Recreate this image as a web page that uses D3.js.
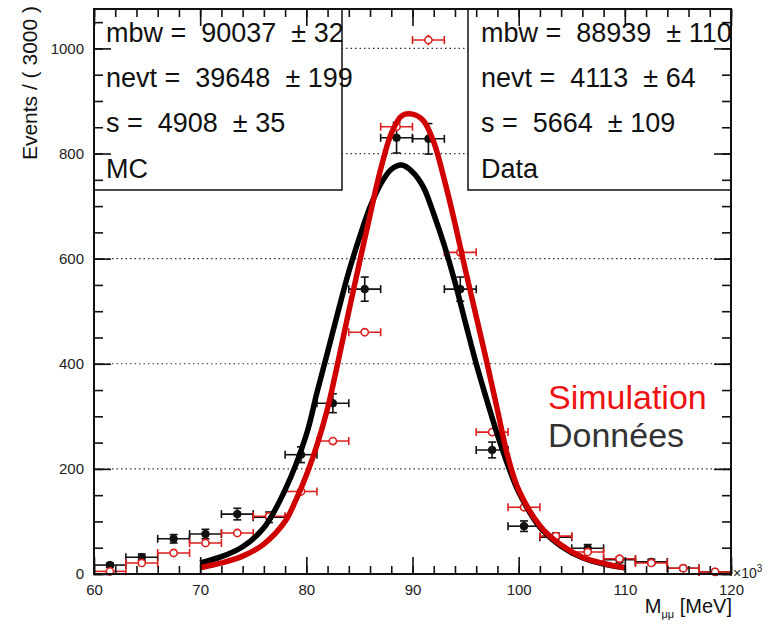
<!DOCTYPE html>
<html>
<head>
<meta charset="utf-8">
<script src="https://cdn.jsdelivr.net/npm/d3@7"></script>
<style>
  body { margin: 0; background: #fff; }
  svg { display: block; font-family: "Liberation Sans", Arial, Helvetica, sans-serif; }
  .txt { white-space: pre; }
</style>
</head>
<body>
<div id="chart"></div>
<script>
// Bin centres (3 GeV bins, shown in MeV / 1000)
const binCenters = [61.5, 64.5, 67.5, 70.5, 73.5, 76.5, 79.5, 82.5, 85.5, 88.5,
                    91.5, 94.5, 97.5, 100.5, 103.5, 106.5, 109.5, 112.5, 115.5, 118.5];
const binHalfWidth = 1.5;

// Data (black filled points)
const dataValues = [17, 32, 67, 76, 114, 108, 227, 325, 542, 830,
                    828, 542, 236, 91, 70, 49, 27, 23, 11, 4];
const dataErrors = [4, 6, 8, 9, 11, 10, 15, 18, 23, 29,
                    29, 23, 15, 10, 8, 7, 5, 5, 3, 2];

// MC (red open points, scaled)
const mcValues = [5, 21, 40, 59, 78, 110, 157, 253, 460, 851,
                  1016, 612, 270, 127, 72, 42, 29, 21, 11, 4];
const mcErrors = [1, 1.5, 2, 2.5, 3, 3.4, 4, 5, 7, 9.4,
                  10, 8, 5.3, 3.6, 2.7, 2, 1.7, 1.5, 1, 0.7];

// Fitted curves
const dataFitX = [70, 72, 74, 76, 78, 80, 81, 82, 83, 84, 85, 86, 87, 88, 89, 90,
                  91, 92, 93, 94, 95, 96, 97, 98, 99, 100, 102, 104, 106, 108, 110];
const dataFitY = [21, 33, 52, 88, 160, 265, 345, 422, 500, 575, 640, 698, 742, 770, 778, 765,
                  737, 685, 625, 555, 477, 400, 331, 265, 206, 156, 89, 53, 31, 19, 12];
const mcFitX = [70, 72, 74, 76, 78, 79, 80, 81, 82, 83, 84, 85, 86, 87, 88, 89, 90,
                91, 92, 93, 94, 95, 96, 97, 98, 99, 100, 102, 104, 106, 108, 110];
const mcFitY = [12, 21, 34, 57, 100, 140, 188, 245, 315, 405, 500, 592, 683, 770, 838, 872, 875,
                863, 822, 750, 667, 577, 490, 403, 312, 222, 160, 92, 55, 32, 20, 12];

// Axes
const xMajorTicks = [60, 70, 80, 90, 100, 110, 120];
const yMajorTicks = [0, 200, 400, 600, 800, 1000];
const gridValues = [200, 400, 600, 800, 1000];

// Fit result boxes
const mcStats = ["mbw =  90037  \u00b1 32", "nevt =  39648  \u00b1 199", "s =  4908  \u00b1 35", "MC"];
const dataStats = ["mbw =  88939  \u00b1 110", "nevt =  4113  \u00b1 64", "s =  5664  \u00b1 109", "Data"];

const W = 771, H = 624;
const plot = { left: 94, right: 731, top: 9, bottom: 574 };

const svg = d3.select("#chart").append("svg")
    .attr("width", W)
    .attr("height", H);

const x = d3.scaleLinear().domain([60, 120]).range([plot.left, plot.right]);
const y = d3.scaleLinear().domain([0, 1075]).range([plot.bottom, plot.top]);

// Dotted horizontal grid
svg.append("g")
    .selectAll("line")
    .data(gridValues)
    .join("line")
    .attr("x1", plot.left)
    .attr("x2", plot.right)
    .attr("y1", d => y(d))
    .attr("y2", d => y(d))
    .attr("stroke", "#333")
    .attr("stroke-width", 1.2)
    .attr("stroke-dasharray", "1.5,3");

// Error bar points
function drawPoints(values, errors, color, filled) {
    const g = svg.append("g");
    const pts = binCenters.map((c, i) => ({ c: c, v: values[i], e: errors[i] }));
    const capH = 4;

    // horizontal bars
    g.selectAll("line.h")
        .data(pts)
        .join("line")
        .attr("class", "h")
        .attr("x1", d => x(d.c - binHalfWidth))
        .attr("x2", d => x(d.c + binHalfWidth))
        .attr("y1", d => y(d.v))
        .attr("y2", d => y(d.v))
        .attr("stroke", color)
        .attr("stroke-width", 1.6);

    // end caps of horizontal bars
    g.selectAll("line.capl")
        .data(pts)
        .join("line")
        .attr("class", "capl")
        .attr("x1", d => x(d.c - binHalfWidth))
        .attr("x2", d => x(d.c - binHalfWidth))
        .attr("y1", d => y(d.v) - capH)
        .attr("y2", d => y(d.v) + capH)
        .attr("stroke", color)
        .attr("stroke-width", 1.6);
    g.selectAll("line.capr")
        .data(pts)
        .join("line")
        .attr("class", "capr")
        .attr("x1", d => x(d.c + binHalfWidth))
        .attr("x2", d => x(d.c + binHalfWidth))
        .attr("y1", d => y(d.v) - capH)
        .attr("y2", d => y(d.v) + capH)
        .attr("stroke", color)
        .attr("stroke-width", 1.6);

    // vertical bars
    g.selectAll("line.v")
        .data(pts)
        .join("line")
        .attr("class", "v")
        .attr("x1", d => x(d.c))
        .attr("x2", d => x(d.c))
        .attr("y1", d => y(d.v - d.e))
        .attr("y2", d => y(d.v + d.e))
        .attr("stroke", color)
        .attr("stroke-width", 1.6);

    if (filled) {
        g.selectAll("line.capt")
            .data(pts)
            .join("line")
            .attr("class", "capt")
            .attr("x1", d => x(d.c) - capH)
            .attr("x2", d => x(d.c) + capH)
            .attr("y1", d => y(d.v + d.e))
            .attr("y2", d => y(d.v + d.e))
            .attr("stroke", color)
            .attr("stroke-width", 1.6);
        g.selectAll("line.capb")
            .data(pts)
            .join("line")
            .attr("class", "capb")
            .attr("x1", d => x(d.c) - capH)
            .attr("x2", d => x(d.c) + capH)
            .attr("y1", d => y(d.v - d.e))
            .attr("y2", d => y(d.v - d.e))
            .attr("stroke", color)
            .attr("stroke-width", 1.6);
    }

    g.selectAll("circle")
        .data(pts)
        .join("circle")
        .attr("cx", d => x(d.c))
        .attr("cy", d => y(d.v))
        .attr("r", filled ? 3.8 : 3.6)
        .attr("fill", filled ? color : "#fff")
        .attr("stroke", color)
        .attr("stroke-width", filled ? 1 : 1.6);
}

drawPoints(dataValues, dataErrors, "#111", true);
drawPoints(mcValues, mcErrors, "#dd1f1f", false);

// Fit curves
const line = d3.line()
    .x(d => x(d[0]))
    .y(d => y(d[1]))
    .curve(d3.curveCatmullRom.alpha(0.5));

svg.append("path")
    .datum(d3.zip(dataFitX, dataFitY))
    .attr("d", line)
    .attr("fill", "none")
    .attr("stroke", "#000")
    .attr("stroke-width", 5.5);

svg.append("path")
    .datum(d3.zip(mcFitX, mcFitY))
    .attr("d", line)
    .attr("fill", "none")
    .attr("stroke", "#d00000")
    .attr("stroke-width", 5.5);

// Stat boxes
function statBox(x0, x1) {
    svg.append("rect")
        .attr("x", x0)
        .attr("y", plot.top)
        .attr("width", x1 - x0)
        .attr("height", 190 - plot.top)
        .attr("fill", "#fff")
        .attr("stroke", "#111")
        .attr("stroke-width", 1.5);
}
statBox(plot.left, 342);
statBox(468, plot.right);

// Axes: ticks on all four sides, pointing inwards
function styleAxis(g) {
    g.select(".domain").remove();
    g.selectAll(".tick line").attr("stroke", "#111").attr("stroke-width", 1.6);
    g.selectAll(".tick text")
        .attr("fill", "#222")
        .style("font-size", "15px")
        .style("font-family", "\"Liberation Sans\", Arial, sans-serif");
}

svg.append("g")
    .attr("transform", `translate(0,${plot.bottom})`)
    .call(d3.axisBottom(x).tickValues(xMajorTicks).tickSize(-17).tickPadding(10).tickFormat(d3.format("d")))
    .call(styleAxis);
svg.append("g")
    .attr("transform", `translate(0,${plot.bottom})`)
    .call(d3.axisBottom(x).ticks(30).tickSize(-8).tickFormat(""))
    .call(styleAxis);
svg.append("g")
    .attr("transform", `translate(0,${plot.top})`)
    .call(d3.axisTop(x).tickValues(xMajorTicks).tickSize(-17).tickFormat(""))
    .call(styleAxis);
svg.append("g")
    .attr("transform", `translate(0,${plot.top})`)
    .call(d3.axisTop(x).ticks(30).tickSize(-8).tickFormat(""))
    .call(styleAxis);

svg.append("g")
    .attr("transform", `translate(${plot.left},0)`)
    .call(d3.axisLeft(y).tickValues(yMajorTicks).tickSize(-17).tickPadding(10).tickFormat(d3.format("d")))
    .call(styleAxis);
svg.append("g")
    .attr("transform", `translate(${plot.left},0)`)
    .call(d3.axisLeft(y).ticks(20).tickSize(-9).tickFormat(""))
    .call(styleAxis);
svg.append("g")
    .attr("transform", `translate(${plot.right},0)`)
    .call(d3.axisRight(y).tickValues(yMajorTicks).tickSize(-17).tickFormat(""))
    .call(styleAxis);
svg.append("g")
    .attr("transform", `translate(${plot.right},0)`)
    .call(d3.axisRight(y).ticks(20).tickSize(-9).tickFormat(""))
    .call(styleAxis);

// Frame
svg.append("rect")
    .attr("x", plot.left)
    .attr("y", plot.top)
    .attr("width", plot.right - plot.left)
    .attr("height", plot.bottom - plot.top)
    .attr("fill", "none")
    .attr("stroke", "#111")
    .attr("stroke-width", 2);

// Stat box text
const rowBaselines = [42, 87, 132, 178];
function statText(x0, lines) {
    svg.append("g")
        .selectAll("text")
        .data(lines)
        .join("text")
        .attr("class", "txt")
        .attr("x", x0)
        .attr("y", (d, i) => rowBaselines[i])
        .attr("fill", "#111")
        .style("font-size", "27px")
        .text(d => d);
}
statText(106, mcStats);
statText(481, dataStats);

// Legend
svg.append("text")
    .attr("x", 548)
    .attr("y", 409)
    .attr("fill", "#ee1111")
    .style("font-size", "34px")
    .text("Simulation");
svg.append("text")
    .attr("x", 548)
    .attr("y", 447)
    .attr("fill", "#333")
    .style("font-size", "34px")
    .text("Données");

// Axis titles
svg.append("text")
    .attr("transform", "translate(37,6) rotate(-90)")
    .attr("text-anchor", "end")
    .attr("fill", "#111")
    .attr("class", "txt")
    .style("font-size", "21px")
    .text("Events / ( 3000 )");

const xt = svg.append("text")
    .attr("x", 732)
    .attr("y", 613)
    .attr("text-anchor", "end")
    .attr("fill", "#111")
    .attr("class", "txt")
    .style("font-size", "20px");
xt.append("tspan").text("M");
xt.append("tspan").attr("dy", 5).style("font-size", "11px").text("\u03bc\u03bc");
xt.append("tspan").attr("dy", -5).text(" [MeV]");

const ex = svg.append("text")
    .attr("x", 733)
    .attr("y", 578)
    .attr("fill", "#222")
    .style("font-size", "14px");
ex.append("tspan").text("\u00d710");
ex.append("tspan").attr("dy", -6).style("font-size", "10px").text("3");
</script>
</body>
</html>
